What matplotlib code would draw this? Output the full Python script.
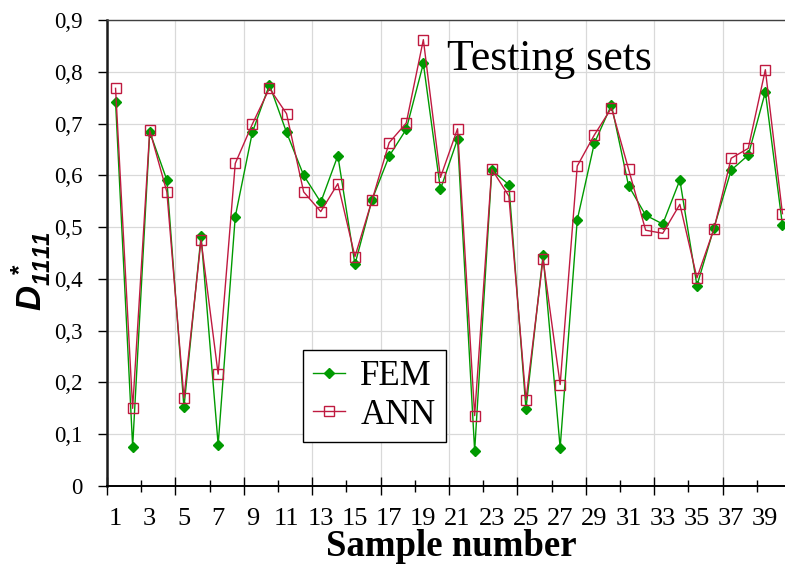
import numpy as np
import matplotlib
matplotlib.use("Agg")
import matplotlib.pyplot as plt
from matplotlib.ticker import FixedLocator, FuncFormatter

# sample numbers and D1111* values
samples = np.arange(1, 41)
fem = [0.742, 0.076, 0.684, 0.591, 0.152, 0.483, 0.080, 0.520, 0.683, 0.775,
       0.683, 0.600, 0.548, 0.638, 0.428, 0.553, 0.637, 0.689, 0.816, 0.573,
       0.670, 0.068, 0.610, 0.582, 0.149, 0.446, 0.074, 0.514, 0.662, 0.736,
       0.580, 0.523, 0.506, 0.591, 0.387, 0.499, 0.610, 0.639, 0.761, 0.504]
ann = [0.768, 0.150, 0.687, 0.568, 0.170, 0.475, 0.216, 0.623, 0.699, 0.768,
       0.719, 0.568, 0.530, 0.584, 0.443, 0.552, 0.663, 0.701, 0.862, 0.596,
       0.690, 0.136, 0.612, 0.560, 0.166, 0.438, 0.196, 0.618, 0.678, 0.730,
       0.612, 0.494, 0.488, 0.544, 0.402, 0.497, 0.633, 0.652, 0.804, 0.526]
y_ticks = np.arange(0, 0.91, 0.1)
x_labels = np.arange(1, 40, 2)

plt.rcParams['font.family'] = ['Liberation Serif', 'DejaVu Serif']
plt.rcParams['mathtext.fontset'] = 'custom'
plt.rcParams['mathtext.it'] = 'Liberation Sans:italic:bold'
plt.rcParams['mathtext.rm'] = 'Liberation Sans:italic:bold'
plt.rcParams['mathtext.bf'] = 'Liberation Sans:italic:bold'

fig = plt.figure(figsize=(7.85, 5.69), dpi=100)
ax = fig.add_axes([107 / 785, 83 / 569, 684 / 785, 466 / 569])

green = '#009a00'
red = '#bf1a40'
ax.plot(samples, fem, color=green, lw=1.0, marker='D', ms=5.5,
        mfc=green, mec=green, label='FEM', zorder=3)
ax.plot(samples, ann, color=red, lw=1.0, marker='s', ms=7.5,
        mfc='none', mec=red, mew=1.0, label='ANN', zorder=4)

ax.set_xlim(0.5, 40.5)
ax.set_ylim(0, 0.9)

# category boundaries: long ticks + grid every 4, short ticks in between
ax.xaxis.set_major_locator(FixedLocator(np.arange(0.5, 41, 4)))
ax.xaxis.set_minor_locator(FixedLocator(np.arange(2.5, 41, 4)))
ax.tick_params(axis='x', which='major', direction='inout', length=12.5,
               width=1.0, labelbottom=False)
ax.tick_params(axis='x', which='minor', direction='inout', length=8.5,
               width=1.0)

ax.set_yticks(y_ticks)
ax.yaxis.set_major_formatter(FuncFormatter(
    lambda v, p: '0' if abs(v) < 1e-9 else f'{v:.1f}'.replace('.', ',')))
ax.tick_params(axis='y', direction='out', length=6.5, width=1.0, pad=11,
               labelsize=16.5)

ax.grid(True, which='major', color='#d9d9d9', lw=0.9, zorder=0)
ax.set_axisbelow(True)

# labels sit in the middle of categories
sec = ax.secondary_xaxis('bottom')
sec.set_xticks(x_labels)
sec.set_xticklabels([str(v) for v in x_labels])
sec.tick_params(length=0, pad=16, labelsize=19)
sec.spines['bottom'].set_visible(False)

ax.spines['left'].set_linewidth(1.8)
ax.spines['left'].set_color('#1a1a1a')
ax.spines['bottom'].set_linewidth(1.4)
ax.spines['bottom'].set_color('black')
ax.spines['top'].set_linewidth(1.0)
ax.spines['top'].set_color('#404040')
ax.spines['right'].set_visible(False)

fig.text(447 / 785, 1 - 70 / 569, 'Testing sets', fontsize=31.5,
         va='baseline', ha='left')
fig.text(451 / 785, 1 - 556 / 569, 'Sample number', fontsize=26.5,
         fontweight='bold', va='baseline', ha='center')
fig.text(31 / 785, 1 - 271 / 569, r'$D_{1111}^{\,*}$', fontsize=25,
         rotation=90, va='center', ha='center')

leg = ax.legend(loc='upper left', bbox_to_anchor=(303 / 785, 1 - 350 / 569),
                bbox_transform=fig.transFigure, fontsize=25, frameon=True,
                fancybox=False, framealpha=1, edgecolor='black',
                handlelength=0.9, handletextpad=0.45, borderpad=0.3,
                labelspacing=0.15, borderaxespad=0)
leg.get_frame().set_linewidth(1.0)

fig.savefig('out.png', dpi=100)
